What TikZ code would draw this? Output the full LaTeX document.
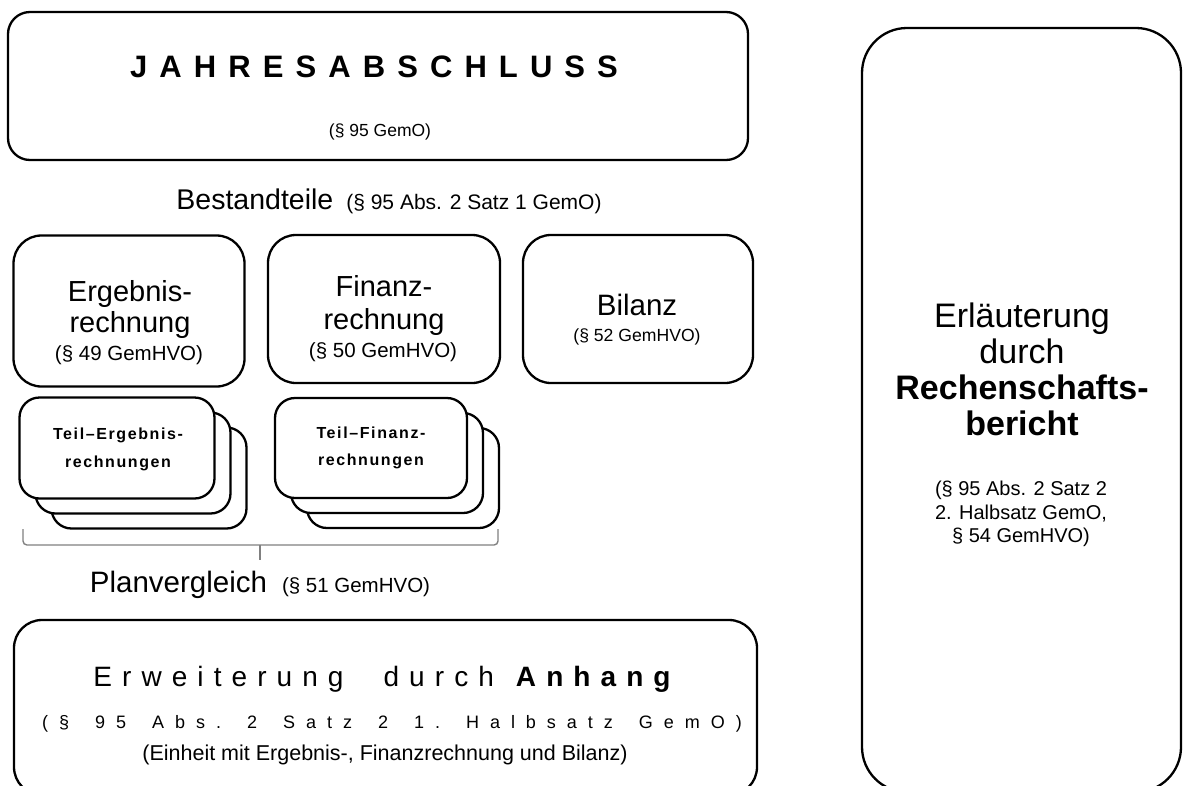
\documentclass[tikz,border=0pt]{standalone}
\usepackage{fontspec}
\setmainfont{Liberation Sans}
\newfontfamily\titlefont[LetterSpace=39]{Liberation Sans}
\newfontfamily\anhangfont[LetterSpace=36]{Liberation Sans}
\newfontfamily\halbsatzfont[LetterSpace=61]{Liberation Sans}
\newfontfamily\teilfont[LetterSpace=10]{Liberation Sans}
\newcommand{\fsz}[1]{\fontsize{#1}{#1}\selectfont}
\newcommand{\wsp}{\hspace{26pt}}

\tikzset{
  roundbox/.style={draw, line width=2.3pt, fill=white, inner sep=0pt, rounded corners=#1},
  roundbox/.default=28pt,
  txt/.style={anchor=base, inner sep=0pt},
  bracket/.style={draw=gray, line width=1.4pt, rounded corners=4pt},
}

\begin{document}
\begin{tikzpicture}[x=1pt, y=-1pt]
 \useasboundingbox (0,0) rectangle (1183,785);

 % Jahresabschluss
 \node[roundbox=22pt, minimum width=740pt, minimum height=148pt] (jahr) at (378,86) {};
 \node[txt, font=\titlefont\bfseries\fsz{31}] (jahrtitle) at (374,77) {JAHRESABSCHLUSS};
 \node[txt, font=\fsz{17.5}] (jahrpar) at (380,136) {(§ 95 GemO)};

 \node[txt] (bestand) at (389,209) {{\fsz{28.5}Bestandteile}\hspace{13pt}{\fsz{21}(§ 95 Abs. 2 Satz 1 GemO)}};

 % Bestandteile
 \node[roundbox, minimum width=231pt, minimum height=151pt] (erg) at (129,311) {};
 \node[roundbox, minimum width=232pt, minimum height=148pt] (fin) at (384,309) {};
 \node[roundbox, minimum width=230pt, minimum height=148pt] (bil) at (638,309) {};

 \node[txt, font=\fsz{29}] (erg1) at (130,301) {Ergebnis-};
 \node[txt, font=\fsz{29}] (erg2) at (130,332) {rechnung};
 \node[txt, font=\fsz{20.5}] (erg3) at (129,360) {(§ 49 GemHVO)};

 \node[txt, font=\fsz{29}] (fin1) at (384,296) {Finanz-};
 \node[txt, font=\fsz{29}] (fin2) at (384,329) {rechnung};
 \node[txt, font=\fsz{20.5}] (fin3) at (383,357) {(§ 50 GemHVO)};

 \node[txt, font=\fsz{29.5}] (bil1) at (637,315) {Bilanz};
 \node[txt, font=\fsz{17.6}] (bil2) at (637,341) {(§ 52 GemHVO)};

 % Teilrechnungen
 \foreach \k in {2,1,0} {
   \node[roundbox=20pt, minimum width=195pt, minimum height=101pt] (teilerg\k) at (117+16*\k,448+15*\k) {};
   \node[roundbox=20pt, minimum width=192pt, minimum height=100pt] (teilfin\k) at (371+16*\k,448+15*\k) {};
 }
 \node[txt, font=\teilfont\bfseries\fsz{16}] (teilerg1txt) at (118,439) {Teil\textendash Ergebnis-};
 \node[txt, font=\teilfont\bfseries\fsz{16}] (teilerg2txt) at (118,467) {rechnungen};
 \node[txt, font=\teilfont\bfseries\fsz{16}] (teilfin1txt) at (371,438) {Teil\textendash Finanz-};
 \node[txt, font=\teilfont\bfseries\fsz{16}] (teilfin2txt) at (371,465) {rechnungen};

 % Klammer Planvergleich
 \coordinate (bl) at (23,529);
 \coordinate (br) at (498,529);
 \coordinate (bm) at (260,545);
 \coordinate (bt) at (260,560);
 \draw[bracket] (bl) |- (bm) -| (br);
 \draw[bracket] (bm) -- (bt);

 \node[txt] (planv) at (260,592) {{\fsz{29.5}Planvergleich}\hspace{15pt}{\fsz{20.5}(§ 51 GemHVO)}};

 % Anhang
 \node[roundbox, minimum width=743pt, minimum height=175pt] (anhang) at (385.5,707.5) {};
 \node[txt, font=\anhangfont\fsz{28}] (anhang1) at (382,686) {Erweiterung\hspace{40pt}durch\hspace{22pt}{\bfseries Anhang}};
 \node[txt, font=\halbsatzfont\fsz{18}] (anhang2) at (392,728) {(§\wsp 95\wsp Abs.\wsp 2\wsp Satz\wsp 2\wsp 1.\wsp Halbsatz\wsp GemO)};
 \node[txt, font=\fsz{21.5}] (anhang3) at (385,760) {(Einheit mit Ergebnis-, Finanzrechnung und Bilanz)};

 % Rechenschaftsbericht
 \node[roundbox=45pt, minimum width=319pt, minimum height=764pt] (bericht) at (1021.5,410) {};
 \node[txt, font=\fsz{34}] (ber1) at (1022,327) {Erläuterung};
 \node[txt, font=\fsz{34}] (ber2) at (1022,363) {durch};
 \node[txt, font=\bfseries\fsz{34}] (ber3) at (1022,399) {Rechenschafts-};
 \node[txt, font=\bfseries\fsz{34}] (ber4) at (1022,435) {bericht};
 \node[txt, font=\fsz{20}] (ber5) at (1021,495) {(§ 95 Abs. 2 Satz 2};
 \node[txt, font=\fsz{20}] (ber6) at (1021,519) {2. Halbsatz GemO,};
 \node[txt, font=\fsz{20}] (ber7) at (1021,542) {§ 54 GemHVO)};
\end{tikzpicture}
\end{document}
